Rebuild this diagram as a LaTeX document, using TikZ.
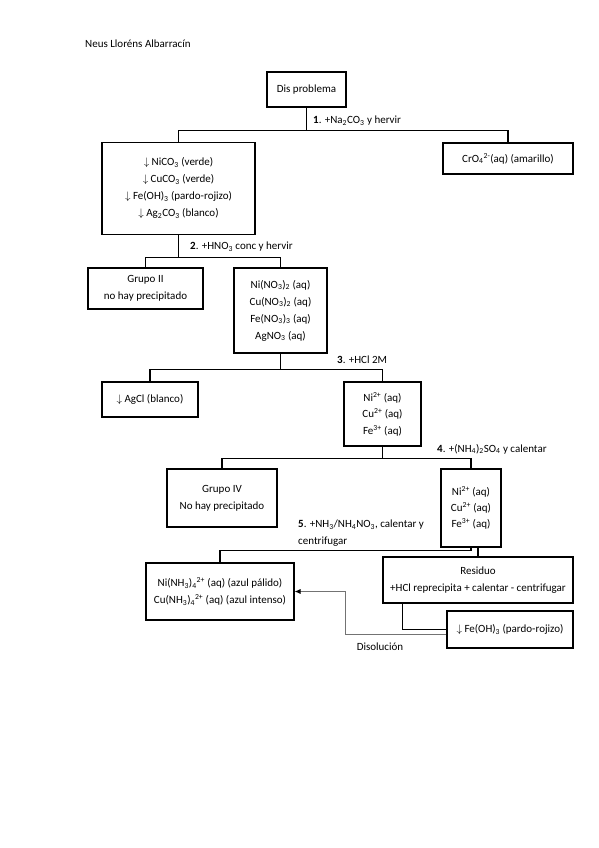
\documentclass[tikz,border=0pt]{standalone}
\usepackage{fontspec}
\setmainfont{Carlito}
\usetikzlibrary{arrows.meta,calc}
\newcommand{\sbs}[1]{\textsubscript{#1}}
\newcommand{\sps}[1]{\textsuperscript{#1}}
\newcommand{\dn}{$\downarrow$}
\begin{document}
\begin{tikzpicture}[x=1pt,y=-1pt,
  font=\fontsize{11}{17}\selectfont,
  box/.style={draw, line width=1.05pt, inner sep=0pt, align=center},
  ln/.style={draw, line width=1.05pt},
  gr/.style={draw, line width=0.8pt, color=black!55},
  lab/.style={inner sep=0pt, anchor=west, align=left}]
\useasboundingbox (0,0) rectangle (599,848);

\node[lab] (author) at (85,44) {Neus Lloréns Albarracín};

% boxes
\node[box, minimum width=79pt, minimum height=35pt] (dis) at (306.5,89.5) {Dis problema};
\node[box, minimum width=153pt, minimum height=92pt] (carb) at (178.5,188.5)
  {\dn{} NiCO\sbs{3} (verde)\\ \dn{} CuCO\sbs{3} (verde)\\ \dn{} Fe(OH)\sbs{3} (pardo-rojizo)\\ \dn{} Ag\sbs{2}CO\sbs{3} (blanco)};
\node[box, minimum width=130pt, minimum height=31pt] (cro) at (508,158.5) {CrO\sbs{4}\sps{2-}(aq) (amarillo)};
\node[box, minimum width=115pt, minimum height=41pt] (g2) at (145.5,288.5) {Grupo II\\ no hay precipitado};
\node[box, minimum width=93pt, minimum height=85pt] (nit) at (280.5,310.5)
  {Ni(NO\sbs{3})\sbs{2} (aq)\\ Cu(NO\sbs{3})\sbs{2} (aq)\\ Fe(NO\sbs{3})\sbs{3} (aq)\\ AgNO\sbs{3} (aq)};
\node[box, minimum width=96pt, minimum height=35pt] (agcl) at (150,399.5) {\dn{} AgCl (blanco)};
\node[box, minimum width=77pt, minimum height=64pt] (ni1) at (382.5,414)
  {Ni\sps{2+} (aq)\\[-0.5pt] Cu\sps{2+} (aq)\\[-0.5pt] Fe\sps{3+} (aq)};
\node[box, minimum width=110pt, minimum height=58pt] (g4) at (222,498) {Grupo IV\\ No hay precipitado};
\node[box, minimum width=60pt, minimum height=78pt] (ni2) at (471,508)
  {Ni\sps{2+} (aq)\\[-1pt] Cu\sps{2+} (aq)\\[-1pt] Fe\sps{3+} (aq)};
\node[box, minimum width=148pt, minimum height=57pt] (amm) at (220,591.5)
  {Ni(NH\sbs{3})\sbs{4}\sps{2+} (aq) (azul pálido)\\ Cu(NH\sbs{3})\sbs{4}\sps{2+} (aq) (azul intenso)};
\node[box, minimum width=190pt, minimum height=46pt] (res) at (478,580)
  {Residuo\\ +HCl reprecipita + calentar - centrifugar};
\node[box, minimum width=126pt, minimum height=37pt] (fe) at (510,629.5) {\dn{} Fe(OH)\sbs{3} (pardo-rojizo)};

% connectors
\coordinate (j1) at ($(dis.south)+(0,23)$);
\draw[ln] (dis.south) -- (j1);
\draw[ln] (carb.north) |- (j1) -| (cro.north);

\coordinate (j2) at ($(carb.south)+(0,22)$);
\draw[ln] (carb.south) -- (j2);
\draw[ln] (g2.north) |- (j2) -| (nit.north);

\coordinate (j3) at ($(nit.south)+(0,16)$);
\draw[ln] (nit.south) -- (j3);
\draw[ln] (agcl.north) |- (j3) -| (ni1.north);

\coordinate (j4) at ($(ni1.south)+(0,12)$);
\draw[ln] (ni1.south) -- (j4);
\draw[ln] (g4.north) |- (j4) -| (ni2.north);

\draw[ln] (ni2.south) -- ++(0,3) -| (amm.north);
\draw[ln] ($(ni2.south)+(7,0)$) -- (res.north);
\draw[ln] ($(res.south west)+(20,0)$) |- (fe.west);
\draw[gr, -{Latex[length=6pt,width=5pt,fill=black,color=black]}] ($(fe.west)+(0,4.5)$) -| ($(amm.east)+(51,0)$) -- (amm.east);

% labels
\node[lab] (l1) at (313,121) {\textbf{1}. +Na\sbs{2}CO\sbs{3} y hervir};
\node[lab] (l2) at (190,247) {\textbf{2}. +HNO\sbs{3} conc y hervir};
\node[lab] (l3) at (337,360) {\textbf{3}. +HCl 2M};
\node[lab] (l4) at (437,449) {\textbf{4}. +(NH\sbs{4})\sbs{2}SO\sbs{4} y calentar};
\node[lab, anchor=north west] (l5) at (298,520) {\textbf{5}. +NH\sbs{3}/NH\sbs{4}NO\sbs{3}, calentar y\\ centrifugar};
\node[inner sep=0pt] (dl) at (380,647) {Disolución};
\end{tikzpicture}
\end{document}
